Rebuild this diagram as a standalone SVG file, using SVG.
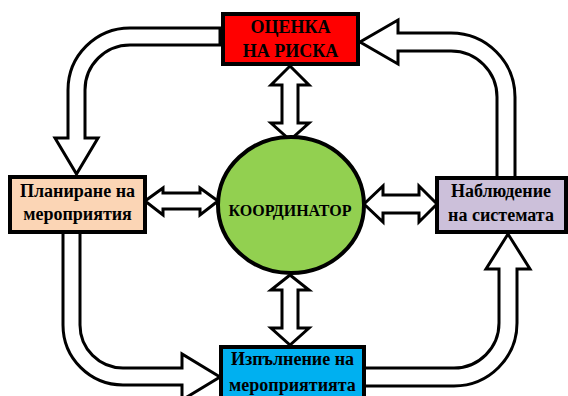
<svg xmlns="http://www.w3.org/2000/svg" width="568" height="396" viewBox="0 0 568 396">
<style>
.arr{fill:#ffffff;stroke:#000000;stroke-width:3;stroke-linejoin:miter}
.box{stroke:#000000;stroke-width:4}
.t{font-family:"Liberation Serif","Times New Roman",serif;font-weight:bold;font-size:18px;fill:#000000;text-anchor:middle}
</style>
<rect width="568" height="396" fill="#ffffff"/>
<g id="connectors">
<path class="arr" d="M220,28 L130,28 A62 62 0 0 0 68,90 L68,138 L55,138 L76.5,174 L98,138 L85,138 L85,90 A45 45 0 0 1 130,45 L220,45 Z"/>
<path class="arr" d="M497,178 L497,97 A46 46 0 0 0 451,51 L398,51 L398,64 L360,42 L398,20 L398,33 L451,33 A64 64 0 0 1 515,97 L515,178 Z"/>
<path class="arr" d="M63,232 L63,325 A60 60 0 0 0 123,385 L182,385 L182,400 L220,377 L182,354 L182,368 L123,368 A43 43 0 0 1 80,325 L80,232 Z"/>
<path class="arr" d="M364,368 L454,368 A45 45 0 0 0 499,323 L499,269 L486,269 L508,234 L530,269 L517,269 L517,323 A63 63 0 0 1 454,386 L364,386 Z"/>
<path class="arr" d="M290,66 L309,85 L298,85 L298,123 L309,123 L290,140 L271,123 L282,123 L282,85 L271,85 Z"/>
<path class="arr" d="M290,275 L309,290 L298,290 L298,328 L309,328 L290,345 L271,328 L282,328 L282,290 L271,290 Z"/>
<path class="arr" d="M145,201 L163,188 L163,193 L200,193 L200,188 L218,201 L200,215 L200,209 L163,209 L163,215 Z"/>
<path class="arr" d="M364,204 L383,186 L383,195 L419,195 L419,186 L437,204 L419,222 L419,213 L383,213 L383,222 Z"/>
</g>
<g id="risk">
<rect class="box" x="223" y="14" width="135" height="50" fill="#ff0000"/>
<text class="t" x="290.5" y="33">ОЦЕНКА</text>
<text class="t" x="290.5" y="57">НА РИСКА</text>
</g>
<g id="planning">
<rect class="box" x="10" y="177" width="135" height="55" fill="#fbd5b5"/>
<text class="t" x="77.5" y="197">Планиране на</text>
<text class="t" x="77.5" y="220">мероприятия</text>
</g>
<g id="monitoring">
<rect class="box" x="437" y="178" width="129" height="54" fill="#ccc0da"/>
<text class="t" x="501" y="197">Наблюдение</text>
<text class="t" x="501" y="221">на системата</text>
</g>
<g id="execution">
<rect class="box" x="221" y="347" width="143" height="60" fill="#00b0f0"/>
<text class="t" x="292.5" y="365">Изпълнение на</text>
<text class="t" x="292.5" y="391">мероприятията</text>
</g>
<g id="coordinator">
<ellipse cx="291" cy="205" rx="73" ry="68" fill="#92d050" stroke="#000000" stroke-width="4"/>
<text class="t" x="290" y="216" style="font-size:16px">КООРДИНАТОР</text>
</g>
</svg>
